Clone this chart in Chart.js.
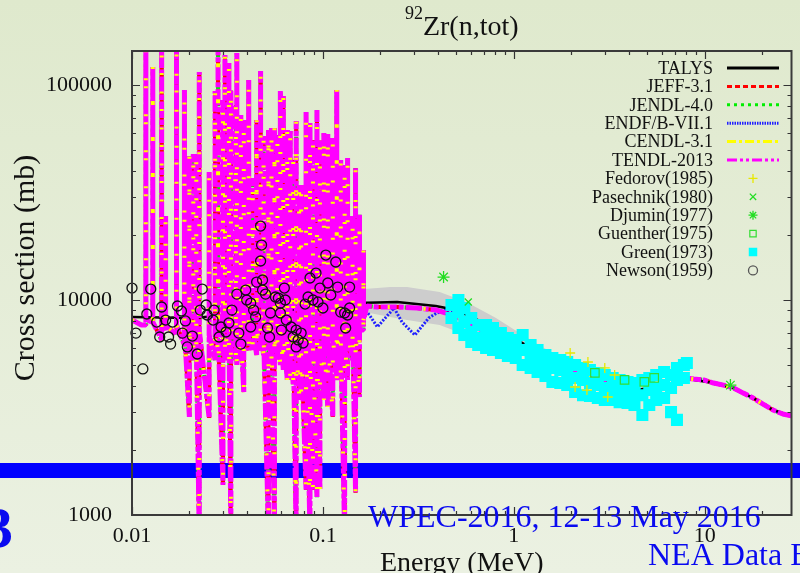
<!DOCTYPE html>
<html lang="en">
<head>
<meta charset="UTF-8">
<title>92Zr(n,tot)</title>
<script src="https://cdn.jsdelivr.net/npm/chart.js"></script>
<style>
  body { margin: 0; padding: 0; background: #e6eed9; }
  .wrap { width: 800px; height: 573px; position: relative; }
</style>
</head>
<body>
<div class="wrap"><canvas id="xsChart"></canvas></div>
<script>
// ---- data (energy in MeV, cross section in mb) ----
const xTickValues = [0.01, 0.1, 1, 10];
const yTickValues = [1000, 10000, 100000];

// evaluated libraries: start, resolved resonances, smooth part
const leadE = [0.01, 0.0112];
const leadXs = [8070, 7650];
const resE = [0.01182, 0.01285, 0.01430, 0.01500, 0.01711, 0.01882, 0.01998, 0.02095, 0.02172, 0.02251,
  0.02536, 0.02724, 0.02823, 0.02997, 0.03069, 0.03219, 0.03297, 0.03500, 0.03542, 0.03716,
  0.03851, 0.04088, 0.04288, 0.04497, 0.04717, 0.04889, 0.05188, 0.05378, 0.05574, 0.05777,
  0.05987, 0.06205, 0.06508, 0.06745, 0.06991, 0.07245, 0.07509, 0.07691, 0.08163, 0.08561,
  0.08874, 0.09309, 0.09649, 0.1012, 0.1061, 0.1127, 0.1182, 0.1240, 0.1300, 0.1347,
  0.1431, 0.1483, 0.1555, 0.1631];
const resHi = [150000, 121300, 150000, 24600, 150000, 94800, 46700, 47800, 47800, 114900,
  39400, 93800, 150000, 85200, 137900, 126600, 94800, 80700, 140900, 72500,
  68700, 105500, 36900, 68700, 116200, 57900, 61800, 63100, 63100, 58500,
  93800, 88900, 61800, 61100, 44800, 68000, 34300, 34300, 74900, 66600,
  55500, 76500, 55500, 59800, 59200, 56700, 94800, 44800, 42500, 45800,
  24600, 41100, 24900, 17100];
const resLo = [7650, 7900, 6520, 7250, 6870, 6180, 2860, 5260, 5850, 800,
  2830, 5260, 5850, 1380, 5260, 5260, 800, 5260, 4990, 5260,
  3730, 5850, 5850, 5550, 5850, 5550, 800, 5260, 800, 5260,
  4990, 4730, 4250, 4250, 4020, 800, 3430, 3430, 1310, 800,
  1310, 1210, 1310, 3430, 3180, 2860, 4250, 4480, 800, 4250,
  5260, 1270, 3540, 7250];
const resBase = [8070, 7900, 7900, 7650, 7650, 7250, 6870, 6520, 6520, 7250,
  6870, 7250, 7250, 7020, 7250, 7490, 7250, 7490, 7250, 7020,
  6870, 7250, 7490, 7250, 7490, 7020, 6870, 7250, 6870, 7250,
  7490, 7250, 6870, 7020, 6730, 6520, 6730, 6520, 7020, 6730,
  6520, 6870, 6730, 6870, 7020, 6730, 7250, 6870, 6520, 7020,
  7490, 6870, 7250, 8070];
const smoothE = [0.17, 0.1928, 0.2447, 0.3107, 0.3943, 0.4716, 0.564, 0.8, 1.154, 1.465, 1.974, 2.66, 3.584,
  4.716, 6.28, 7.784, 8.77, 9.88, 11.13, 12.54, 14.14, 15.93, 17.94, 20.22, 22.78, 25.67, 28.5];
const smoothXs = [9380, 9280, 9280, 9180, 8980, 8520, 8070, 6600, 5900, 5370, 4830, 4340, 3900,
  3690, 3900, 4340, 4290, 4250, 4110, 4020, 3900, 3690, 3500, 3280, 3080, 2950, 2890];

// ENDF/B-VII.1 where it departs from the others
const endfE = [0.1631, 0.1752, 0.1928, 0.2121, 0.2361, 0.2597, 0.3033, 0.3585, 0.3943, 0.4444];
const endfXs = [9180, 8520, 7490, 8250, 9180, 7900, 6870, 8250, 8700, 8980];

// TALYS and its uncertainty band
const talysE = [0.01, 0.02, 0.05, 0.1, 0.15, 0.245, 0.39, 0.5, 0.78, 1.154, 1.593, 1.974, 2.66, 4.287,
  6.28, 8.067, 11.13, 14.14, 17.94, 22.78, 28.5];
const talysXs = [8340, 8250, 8700, 9300, 9680, 9780, 9380, 8980, 7480, 6180, 5370, 4730, 4250, 3810,
  3980, 4300, 4110, 3900, 3500, 3080, 2890];
const bandE = [0.1651, 0.2251, 0.2757, 0.4088, 0.564, 0.8067, 1.113, 1.413, 1.860, 2.66];
const bandHi = [11250, 11490, 11490, 10900, 9790, 8250, 6870, 6050, 5260, 4830];
const bandLo = [8790, 8340, 8070, 7650, 6870, 6380, 5550, 4830, 4380, 3900];

// experiments
const newsonE = [0.0100, 0.01254, 0.01196, 0.01049, 0.01140, 0.01347, 0.01430, 0.01397, 0.01500, 0.01554,
  0.01593, 0.01632, 0.01731, 0.01816, 0.01837, 0.01905, 0.01950, 0.02071, 0.02198, 0.02333,
  0.02278, 0.02447, 0.02476, 0.02692, 0.02660, 0.02858, 0.02927, 0.03107, 0.03219, 0.03337,
  0.03542, 0.03627, 0.03716, 0.03943, 0.03990, 0.04186, 0.04186, 0.04337, 0.04443, 0.04497,
  0.04717, 0.04773, 0.04717, 0.04830, 0.04830, 0.05006, 0.05127, 0.05251, 0.05314, 0.05640,
  0.05846, 0.05987, 0.06282, 0.06357, 0.05987, 0.06433, 0.06060, 0.06826, 0.06991, 0.07245,
  0.07421, 0.07691, 0.07245, 0.07878, 0.08069, 0.08363, 0.08561, 0.08874, 0.09200, 0.09422,
  0.09649, 0.1000, 0.1036, 0.1061, 0.1100, 0.1168, 0.1196, 0.1240, 0.1300, 0.1316,
  0.1380, 0.1380, 0.1347];
const newsonXs = [11370, 11250, 8610, 7020, 4780, 7900, 9280, 6730, 8070, 6730,
  6240, 7900, 9380, 8890, 7020, 7990, 6050, 6800, 5610, 11250,
  8980, 9480, 8520, 8980, 8070, 6730, 7490, 7100, 7820, 8980,
  10660, 7020, 6240, 11130, 10000, 9680, 7490, 8980, 8340, 12120,
  22090, 18020, 15190, 12390, 11130, 10660, 7410, 6730, 8700, 10330,
  10210, 9680, 11370, 10000, 8700, 8070, 7250, 7490, 6730, 7250,
  6520, 7020, 6050, 6310, 9580, 10330, 12660, 10000, 13350, 9790,
  11370, 9180, 16190, 12000, 10550, 15030, 11490, 8790, 8700, 7410,
  11490, 9180, 8520];
const greenE = [0.4716, 0.4716,
  0.5127, 0.5127, 0.5127, 0.5507, 0.5507, 0.5507, 0.5988, 0.5988, 0.5988,
  0.6509, 0.6509, 0.6509, 0.7159, 0.7159, 0.7159, 0.7784, 0.7784, 0.7784,
  0.8561, 0.8561, 0.8561, 0.9309, 0.9309, 0.9309, 1.024, 1.024, 1.024,
  1.113, 1.113, 1.113, 1.225, 1.225, 1.225, 1.332, 1.332, 1.332,
  1.465, 1.465, 1.465, 1.593, 1.593, 1.593, 1.752, 1.752, 1.752,
  1.905, 1.905, 1.905, 2.095, 2.095, 2.095, 2.305, 2.305, 2.305,
  2.506, 2.506, 2.506, 2.756, 2.756, 2.756, 2.997, 2.997, 2.997,
  3.297, 3.297, 3.297, 3.584, 3.584, 3.584, 3.943, 3.943, 3.943,
  4.287, 4.287, 4.287, 4.716, 4.716, 4.716, 5.127, 5.127, 5.127,
  5.573, 5.573, 5.573, 6.131, 6.131, 6.131, 6.665, 6.665, 6.665,
  7.159, 7.159, 7.159, 7.784, 7.784, 8.067];
const greenXs = [9480, 8250,
  10000, 8790, 7410, 9180, 7900, 6870, 8250, 7100, 6380,
  7650, 6660, 6180, 7650, 6800, 5980, 7410, 6520, 5850,
  7020, 6180, 5670, 6660, 5980, 5490, 6520, 5850, 5370,
  6870, 5850, 4990, 6180, 5430, 4830, 5850, 5260, 4630,
  5550, 4990, 4430, 5370, 4830, 4160, 5260, 4730, 4110,
  5150, 4580, 4020, 4990, 4340, 3730, 4830, 4250, 3610,
  4730, 4110, 3580, 4580, 4020, 3500, 4480, 3900, 3430,
  4340, 3810, 3430, 4250, 3810, 3350, 4160, 3730, 3320,
  4110, 3690, 3250, 4250, 3610, 2920, 4340, 3810, 3250,
  4480, 3900, 3430, 4630, 4020, 3500, 4480, 3900, 3010,
  4830, 4250, 2770, 4990, 4340, 5090];
const fedorovE = [1.974, 2.446, 2.997, 3.377, 2.095, 2.417, 3.107];
const fedorovXs = [5670, 5150, 4830, 4480, 3940, 3810, 3540];
const guentherE = [2.66, 3.804, 4.830, 5.44];
const guentherXs = [4580, 4250, 4160, 4340];
const pasechnikE = [0.5776];
const pasechnikXs = [9790];
const djuminE = [0.4287, 13.64];
const djuminXs = [12790, 4020];

const serif = '"Liberation Serif", "Times New Roman", serif';

function pts(xs, ys) {
  return xs.map((x, i) => ({ x: x, y: ys[i] }));
}

// one path shared by the evaluations: each resonance drawn as a vertical stroke
const evalPath = pts(leadE, leadXs);
resE.forEach((e, i) => {
  evalPath.push({ x: e, y: resLo[i] }, { x: e, y: resHi[i] }, { x: e, y: resBase[i] });
});
evalPath.push(...pts(smoothE, smoothXs));

const endfPath = pts(endfE, endfXs).concat(pts(smoothE, smoothXs).filter(p => p.x > 0.5));

function libLine(label, color, dash, legendDash, width, order, data) {
  return {
    label: label, data: (data || evalPath).slice(), borderColor: color, borderWidth: width,
    borderDash: dash, legendDash: legendDash, pointRadius: 0, fill: false, tension: 0,
    borderJoinStyle: 'bevel', clip: 0, order: order
  };
}

function marks(label, xs, ys, style, radius, fillColor, lineColor, lw, order) {
  return {
    label: label, data: pts(xs, ys), showLine: false, pointStyle: style, pointRadius: radius,
    pointBackgroundColor: fillColor, pointBorderColor: lineColor, pointBorderWidth: lw,
    clip: 10, order: order
  };
}

const datasets = [
  { label: 'band', data: pts(bandE, bandHi), borderColor: 'rgba(0,0,0,0)', borderWidth: 0,
    pointRadius: 0, backgroundColor: '#cdcdcd', fill: '+1', order: 30, clip: 0 },
  { label: 'bandLow', data: pts(bandE, bandLo), borderColor: 'rgba(0,0,0,0)', borderWidth: 0,
    pointRadius: 0, fill: false, order: 31, clip: 0 },
  libLine('TALYS', '#000000', [], [], 2.5, 12, pts(talysE, talysXs)),
  libLine('JEFF-3.1', '#ff0000', [6, 4], [5, 3], 4, 13),
  libLine('JENDL-4.0', '#00ee00', [3, 4], [3, 4], 4, 15),
  libLine('ENDF/B-VII.1', '#2020ff', [2, 1.5], [1.5, 1], 3, 14, endfPath),
  libLine('CENDL-3.1', '#ffff00', [2, 34], [9, 3, 3, 3], 4, 10),
  libLine('TENDL-2013', '#ff00ff', [16, 2, 5, 2], [10, 3, 3, 3, 3, 3], 5, 11),
  marks('Fedorov(1985)', fedorovE, fedorovXs, 'cross', 5, '#e8e800', '#e8e800', 1.3, 4),
  marks('Pasechnik(1980)', pasechnikE, pasechnikXs, 'crossRot', 5, '#22dd22', '#22dd22', 1.3, 3),
  marks('Djumin(1977)', djuminE, djuminXs, 'star', 6, '#22dd22', '#22dd22', 1.3, 3),
  marks('Guenther(1975)', guentherE, guentherXs, 'rect', 6, 'rgba(0,0,0,0)', '#33dd33', 1.2, 4),
  marks('Green(1973)', greenE, greenXs, 'rect', 8.5, '#00ffff', '#00ffff', 0, 5),
  marks('Newson(1959)', newsonE, newsonXs, 'circle', 5, 'rgba(0,0,0,0)', '#111111', 1.3, 2)
];

const legendOrder = ['TALYS', 'JEFF-3.1', 'JENDL-4.0', 'ENDF/B-VII.1', 'CENDL-3.1', 'TENDL-2013',
  'Fedorov(1985)', 'Pasechnik(1980)', 'Djumin(1977)', 'Guenther(1975)', 'Green(1973)', 'Newson(1959)'];

// background, blue slide band, frame, ticks, titles, gnuplot style key, slide text
const decor = {
  id: 'decor',
  beforeDraw(chart) {
    const ctx = chart.ctx;
    const g = ctx.createLinearGradient(0, 0, 0, chart.height);
    g.addColorStop(0, '#dfe9cd');
    g.addColorStop(1, '#ebf1e2');
    ctx.save();
    ctx.fillStyle = g;
    ctx.fillRect(0, 0, chart.width, chart.height);
    ctx.fillStyle = '#0000ff';
    ctx.fillRect(0, 463, chart.width, 15);
    ctx.restore();
  },
  afterDraw(chart) {
    const ctx = chart.ctx;
    const a = chart.chartArea;
    const xs = chart.scales.x, ys = chart.scales.y;
    ctx.save();

    // inward tick marks on all four sides
    ctx.strokeStyle = '#333';
    ctx.lineWidth = 1.2;
    ctx.beginPath();
    for (let e = -2; e <= 1; e++) {
      for (let m = 1; m <= 9; m++) {
        const v = m * Math.pow(10, e);
        if (v < xs.min || v > xs.max) continue;
        const p = Math.round(xs.getPixelForValue(v)) + 0.5;
        const len = m === 1 ? 8 : 4;
        ctx.moveTo(p, a.bottom); ctx.lineTo(p, a.bottom - len);
        ctx.moveTo(p, a.top); ctx.lineTo(p, a.top + len);
      }
    }
    for (let e = 3; e <= 5; e++) {
      for (let m = 1; m <= 9; m++) {
        const v = m * Math.pow(10, e);
        if (v < ys.min || v > ys.max) continue;
        const p = Math.round(ys.getPixelForValue(v)) + 0.5;
        const len = m === 1 ? 8 : 4;
        ctx.moveTo(a.left, p); ctx.lineTo(a.left + len, p);
        ctx.moveTo(a.right, p); ctx.lineTo(a.right - len, p);
      }
    }
    ctx.stroke();
    ctx.lineWidth = 2;
    ctx.strokeStyle = '#3a3a3a';
    ctx.strokeRect(a.left, a.top, a.right - a.left, a.bottom - a.top);

    // title with superscript mass number
    ctx.fillStyle = '#111';
    ctx.textBaseline = 'alphabetic';
    ctx.font = '18px ' + serif;
    const w1 = ctx.measureText('92').width;
    ctx.font = '28px ' + serif;
    const w2 = ctx.measureText('Zr(n,tot)').width;
    const cx = (a.left + a.right) / 2;
    const x0 = cx - (w1 + w2) / 2;
    ctx.textAlign = 'left';
    ctx.font = '18px ' + serif;
    ctx.fillText('92', x0, 19);
    ctx.font = '28px ' + serif;
    ctx.fillText('Zr(n,tot)', x0 + w1, 35);

    // axis titles
    ctx.textAlign = 'center';
    ctx.fillText('Energy (MeV)', cx, 571);
    ctx.save();
    ctx.translate(34, 268);
    ctx.rotate(-Math.PI / 2);
    ctx.font = '30px ' + serif;
    ctx.fillText('Cross section (mb)', 0, 0);
    ctx.restore();

    // key
    ctx.font = '18px ' + serif;
    ctx.textAlign = 'right';
    ctx.textBaseline = 'middle';
    legendOrder.forEach((name, i) => {
      const ds = chart.data.datasets.find(d => d.label === name);
      const y = 68 + i * 18.4;
      ctx.fillStyle = '#111';
      ctx.fillText(name, 713, y + 1);
      if (ds.showLine === false) {
        ctx.fillStyle = ds.pointBackgroundColor;
        ctx.strokeStyle = name === 'Newson(1959)' ? '#555' : ds.pointBorderColor;
        ctx.lineWidth = ds.pointBorderWidth || 1;
        Chart.helpers.drawPoint(ctx, {
          pointStyle: ds.pointStyle, radius: name === 'Green(1973)' ? 6 : 4.5,
          rotation: 0, borderWidth: ds.pointBorderWidth
        }, 753, y);
      } else {
        ctx.strokeStyle = ds.borderColor;
        ctx.lineWidth = 3;
        ctx.setLineDash(ds.legendDash);
        ctx.beginPath();
        ctx.moveTo(727, y);
        ctx.lineTo(779, y);
        ctx.stroke();
        ctx.setLineDash([]);
      }
    });

    // slide overlay text
    ctx.textBaseline = 'alphabetic';
    ctx.textAlign = 'left';
    ctx.fillStyle = '#0a0af0';
    ctx.font = '32px ' + serif;
    ctx.fillText('WPEC-2016, 12-13 May 2016', 368, 527);
    ctx.fillText('NEA Data Bank', 648, 565);
    ctx.textAlign = 'right';
    ctx.font = 'bold 58px ' + serif;
    ctx.fillText('3', 13, 547);
    ctx.restore();
  }
};

new Chart(document.getElementById('xsChart'), {
  type: 'line',
  data: { datasets: datasets },
  options: {
    responsive: true,
    maintainAspectRatio: false,
    animation: false,
    devicePixelRatio: 1,
    layout: { padding: { top: 51, right: 1, left: 0, bottom: 0 } },
    plugins: { legend: { display: false }, tooltip: { enabled: false }, title: { display: false } },
    scales: {
      x: {
        type: 'logarithmic', min: 0.01, max: 28.5,
        afterFit: s => { s.height = 58; },
        afterBuildTicks: s => { s.ticks = xTickValues.map(v => ({ value: v })); },
        grid: { display: false },
        border: { display: false },
        ticks: {
          autoSkip: false, maxRotation: 0, padding: 0, color: '#111',
          font: { family: serif, size: 22 },
          callback: v => String(v)
        }
      },
      y: {
        type: 'logarithmic', min: 1000, max: 144000,
        afterFit: s => { s.width = 132; },
        afterBuildTicks: s => { s.ticks = yTickValues.map(v => ({ value: v })); },
        grid: { display: false },
        border: { display: false },
        ticks: {
          autoSkip: false, padding: 12, color: '#111',
          font: { family: serif, size: 22 },
          callback: v => String(v)
        }
      }
    }
  },
  plugins: [decor]
});
</script>
</body>
</html>
